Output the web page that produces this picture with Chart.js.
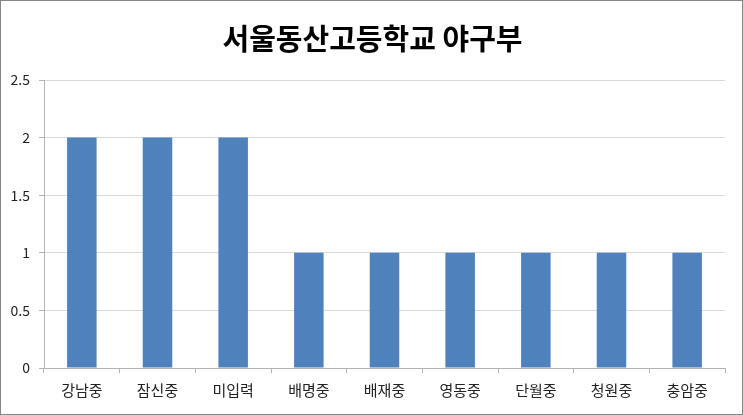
<!DOCTYPE html>
<html>
<head>
<meta charset="utf-8">
<script src="https://cdn.jsdelivr.net/npm/chart.js@4/dist/chart.umd.min.js"></script>
<style>
  html, body { margin: 0; padding: 0; background: #fff; }
  #wrap { width: 743px; height: 415px; position: relative; }
</style>
</head>
<body>
<div id="wrap"><canvas id="chart" width="743" height="415"></canvas></div>
<script>
const title    = '서울동산고등학교 야구부'
const schools  = ['강남중', '잠신중', '미입력', '배명중', '배재중', '영동중', '단월중', '청원중', '충암중']
const counts   = [2, 2, 2, 1, 1, 1, 1, 1, 1]
const yTicks   = [0, 0.5, 1, 1.5, 2, 2.5]

const FONT = '"Noto Sans CJK KR", "Noto Sans", sans-serif'

// outer gray frame + title centred on the whole box (not the padded area)
const frame = {
  id: 'frame',
  afterDraw(chart) {
    const ctx = chart.ctx
    ctx.save()
    ctx.strokeStyle = '#868686'
    ctx.lineWidth = 1
    ctx.strokeRect(0.5, 0.5, chart.width - 1, chart.height - 1)

    ctx.fillStyle = '#000'
    ctx.font = `bold 29px ${FONT}`
    ctx.textAlign = 'center'
    ctx.textBaseline = 'middle'
    ctx.fillText(title, chart.width / 2 + 1, 39)
    ctx.restore()
  }
}

new Chart(document.getElementById('chart').getContext('2d'), {
  type: 'bar',
  data: {
    labels: schools,
    datasets: [{
      data: counts,
      backgroundColor: '#4f81bd',
      borderWidth: 0,
      categoryPercentage: 1,
      barPercentage: 0.39
    }]
  },
  options: {
    responsive: false,
    animation: false,
    devicePixelRatio: 1,
    layout: { padding: { left: 0, right: 18, top: 80, bottom: 0 } },
    plugins: {
      legend: { display: false },
      tooltip: { enabled: false },
      title: { display: false }
    },
    scales: {
      x: {
        grid: {
          display: true,
          drawOnChartArea: false,
          offset: true,
          tickLength: 5,
          tickColor: '#b3b3b3'
        },
        border: { color: '#b3b3b3' },
        ticks: {
          color: '#222',
          padding: 8,
          font: { family: FONT, size: 15 }
        },
        afterFit: s => { s.height = 47 }
      },
      y: {
        min: 0,
        max: 2.5,
        afterBuildTicks: s => { s.ticks = yTicks.map(v => ({ value: v })) },
        grid: { color: '#d9d9d9', tickLength: 5, tickColor: '#b3b3b3' },
        border: { color: '#b3b3b3' },
        ticks: {
          color: '#222',
          padding: 9,
          font: { family: FONT, size: 14 },
          callback: v => String(v)
        },
        afterFit: s => { s.width = 44 }
      }
    }
  },
  plugins: [frame]
})
</script>
</body>
</html>
